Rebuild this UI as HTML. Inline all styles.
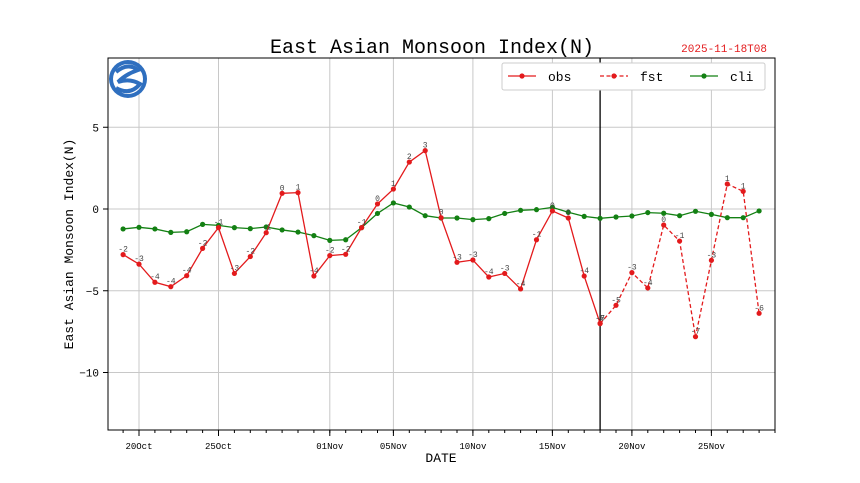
<!DOCTYPE html>
<html><head><meta charset="utf-8"><style>
body{margin:0;background:#fff;}
svg{display:block;font-family:"Liberation Mono","DejaVu Sans Mono",monospace;}
</style></head><body>
<svg id="chart" width="860" height="483" xmlns="http://www.w3.org/2000/svg"></svg>
<script>
const obsDays=[-1,0,1,2,3,4,5,6,7,8,9,10,11,12,13,14,15,16,17,18,19,20,21,22,23,24,25,26,27,28,29];
const obsVals=[-2.79,-3.37,-4.48,-4.75,-4.08,-2.41,-1.14,-3.94,-2.91,-1.45,0.96,1.0,-4.1,-2.85,-2.77,-1.14,0.31,1.22,2.87,3.57,-0.53,-3.26,-3.12,-4.16,-3.94,-4.89,-1.88,-0.12,-0.55,-4.1,-6.99];
const fstDays=[29,30,31,32,33,34,35,36,37,38,39];
const fstVals=[-7.01,-5.89,-3.89,-4.83,-0.98,-1.96,-7.81,-3.14,1.53,1.08,-6.38];
const cliVals=[-1.22,-1.12,-1.22,-1.43,-1.39,-0.94,-1.0,-1.14,-1.2,-1.1,-1.28,-1.41,-1.63,-1.92,-1.88,-1.14,-0.27,0.37,0.12,-0.41,-0.55,-0.55,-0.65,-0.59,-0.27,-0.08,-0.04,0.1,-0.2,-0.45,-0.57,-0.49,-0.43,-0.22,-0.26,-0.41,-0.14,-0.33,-0.53,-0.53,-0.12];
const yTicks=[5,0,-5,-10];
const xTickDays=[0,5,12,16,21,26,31,36];
const xTickLabels=["20Oct","25Oct","01Nov","05Nov","10Nov","15Nov","20Nov","25Nov"];
const splitDay=29;

const L=108,R=775,T=58,B=430;
const X=d=>139+d*15.9;
const Y=v=>209-v*16.35;
const svg=document.getElementById('chart');
const NS='http://www.w3.org/2000/svg';
function mk(tag,attrs,parent){const e=document.createElementNS(NS,tag);for(const k in attrs)e.setAttribute(k,attrs[k]);(parent||svg).appendChild(e);return e;}

let e;
// grid
yTicks.forEach(v=>{e=mk('line',{x1:L,x2:R,y1:Y(v),y2:Y(v),stroke:'#c8c8c8','stroke-width':1});

e=mk('line',{x1:L-5,x2:L,y1:Y(v),y2:Y(v),stroke:'#000'});

e=mk('text',{x:L-9,y:Y(v)+4,'text-anchor':'end','font-size':11,fill:'#000'});e.textContent=v<0?'\u2212'+(-v):String(v);
});
xTickDays.forEach((d,i)=>{e=mk('line',{x1:X(d),x2:X(d),y1:T,y2:B,stroke:'#c8c8c8','stroke-width':1});

e=mk('line',{x1:X(d),x2:X(d),y1:B,y2:B+6,stroke:'#000'});

e=mk('text',{x:X(d),y:B+19,'text-anchor':'middle','font-size':9,fill:'#000'});e.textContent=xTickLabels[i];
});
for(let d=-1;d<=40;d++){e=mk('line',{x1:X(d),x2:X(d),y1:B,y2:B+3,stroke:'#000'});
}
// frame
e=mk('rect',{x:L,y:T,width:R-L,height:B-T,fill:'none',stroke:'#000','stroke-width':1});

// split line
e=mk('line',{x1:X(splitDay),x2:X(splitDay),y1:T,y2:B,stroke:'#000','stroke-width':1.3});


function series(days,vals,color,dash,name,labels){
 const g=mk('g',{});
 const pts=days.map((d,i)=>X(d)+','+Y(vals[i])).join(' ');
 const p=mk('polyline',{points:pts,fill:'none',stroke:color,'stroke-width':1.3},g);
 if(dash)p.setAttribute('stroke-dasharray','4,2.5');
 
 days.forEach((d,i)=>{const c=mk('circle',{cx:X(d),cy:Y(vals[i]),r:2.6,fill:color},g);
  
  if(labels){const t=mk('text',{x:X(d),y:Y(vals[i])-3,'text-anchor':'middle','font-size':8,fill:'#444'},g);
   const v=Math.trunc(vals[i]);t.textContent=(v===0?0:v);
   }
 });
}
const cliDays=cliVals.map((_,i)=>i-1);
series(cliDays,cliVals,'#138013',false,'cli',false);
series(fstDays,fstVals,'#e31a1c',true,'fst',true);
series(obsDays,obsVals,'#e31a1c',false,'obs',true);

// title
e=mk('text',{x:432,y:53,'text-anchor':'middle','font-size':20,fill:'#000'});e.textContent='East Asian Monsoon Index(N)';

e=mk('text',{x:767,y:52,'text-anchor':'end','font-size':11,fill:'#e31a1c'});e.textContent='2025-11-18T08';

e=mk('text',{x:441,y:462,'text-anchor':'middle','font-size':13,fill:'#000'});e.textContent='DATE';

e=mk('text',{x:0,y:0,'text-anchor':'middle','font-size':13,fill:'#000',transform:'translate(73,244) rotate(-90)'});e.textContent='East Asian Monsoon Index(N)';


// legend
const lg=mk('g',{});
e=mk('rect',{x:502,y:63,width:263,height:27,fill:'#fff',stroke:'#ccc',rx:2},lg);

[['obs','#e31a1c',false,508],['fst','#e31a1c',true,600],['cli','#138013',false,690]].forEach(([n,c,dsh,x0])=>{
 const g=mk('g',{},lg);
 const l=mk('line',{x1:x0,x2:x0+28,y1:76,y2:76,stroke:c,'stroke-width':1.3},g);if(dsh)l.setAttribute('stroke-dasharray','4,2.5');
 mk('circle',{cx:x0+14,cy:76,r:2.6,fill:c},g);
 const t=mk('text',{x:x0+40,y:81,'font-size':13,fill:'#000'},g);t.textContent=n;
});

// logo
const lo=mk('g',{});
mk('circle',{cx:128,cy:79,r:19,fill:'#2f6fbf'},lo);
mk('circle',{cx:128,cy:79,r:15,fill:'#fff'},lo);
mk('path',{d:'M116 72 Q128 62 138 70 Q126 74 118 82 Q130 78 140 84 Q130 96 116 88',fill:'none',stroke:'#2f6fbf','stroke-width':4},lo);
</script>
</body></html>
